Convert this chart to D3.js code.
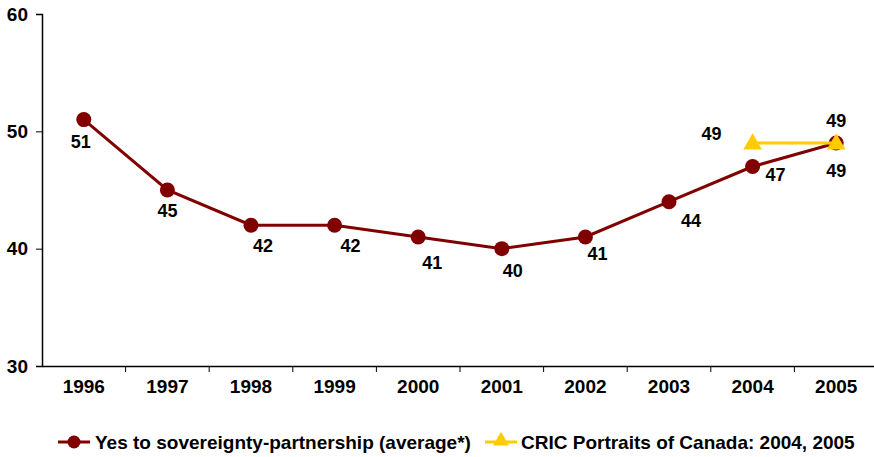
<html>
<head>
<script src="https://d3js.org/d3.v7.min.js"></script>
<style>
body { margin: 0; background: white; font-family: "Liberation Sans", Arial, sans-serif; }
text { font-weight: bold; fill: #000; }
</style>
</head>
<body>
<script>
// chart data
var years = ["1996","1997","1998","1999","2000","2001","2002","2003","2004","2005"];
var yesValues = [51, 45, 42, 42, 41, 40, 41, 44, 47, 49];
var cricYears = ["2004","2005"];
var cricValues = [49, 49];
var yTicks = [30, 40, 50, 60];
var seriesNames = ["Yes to sovereignty-partnership (average*)", "CRIC Portraits of Canada: 2004, 2005"];

// label nudges (layout only)
var yesLabelOffset = [[-3,22],[0,21],[12,20],[16,20],[14,26],[11,22],[12,17],[22,19],[23,8],[0,-22]];
var cricLabelOffset = [[-41,-9],[0,28]];

var width = 874, height = 457;
var maroon = "#800000", gold = "#FFCC00";

var svg = d3.select("body").append("svg")
  .attr("width", width)
  .attr("height", height);

var x = d3.scaleBand().domain(years).range([42, 878]).padding(0);
var cx = function(d){ return x(d) + x.bandwidth()/2; };
var y = d3.scaleLinear().domain([30, 60]).range([366, 14]);

// y axis
var yAxis = svg.append("g")
  .attr("transform", "translate(42,0)")
  .call(d3.axisLeft(y).tickValues(yTicks).tickSize(6).tickPadding(8));
yAxis.select(".domain").attr("stroke", "#000").attr("stroke-width", 1.5);
yAxis.selectAll(".tick line").attr("stroke", "#000");
yAxis.selectAll("text").style("font-size", "19px").attr("font-family", null);

// x axis
var xAxis = svg.append("g")
  .attr("transform", "translate(0,366)")
  .call(d3.axisBottom(x).tickSize(0).tickPadding(14).tickSizeOuter(0));
xAxis.select(".domain").attr("stroke", "#000").attr("stroke-width", 1.5);
xAxis.selectAll("text").style("font-size", "19px").attr("font-family", null);
xAxis.selectAll(".bound")
  .data(years.slice(1))
  .enter().append("line")
  .attr("x1", function(d){ return x(d); })
  .attr("x2", function(d){ return x(d); })
  .attr("y1", 0).attr("y2", 6)
  .attr("stroke", "#000");

// yes series
var line = d3.line()
  .x(function(d){ return cx(d[0]); })
  .y(function(d){ return y(d[1]); });

var yesData = years.map(function(d,i){ return [d, yesValues[i]]; });
svg.append("path")
  .datum(yesData)
  .attr("d", line)
  .attr("fill", "none")
  .attr("stroke", maroon)
  .attr("stroke-width", 3);

svg.selectAll(".yesdot")
  .data(yesData)
  .enter().append("circle")
  .attr("cx", function(d){ return cx(d[0]); })
  .attr("cy", function(d){ return y(d[1]); })
  .attr("r", 7.5)
  .attr("fill", maroon);

// cric series
var cricData = cricYears.map(function(d,i){ return [d, cricValues[i]]; });
svg.append("path")
  .datum(cricData)
  .attr("d", line)
  .attr("fill", "none")
  .attr("stroke", gold)
  .attr("stroke-width", 3);

var tri = d3.symbol().type(d3.symbolTriangle).size(150);
svg.selectAll(".cricdot")
  .data(cricData)
  .enter().append("path")
  .attr("d", tri)
  .attr("transform", function(d){ return "translate(" + cx(d[0]) + "," + (y(d[1]) + 1) + ")"; })
  .attr("fill", gold);

// data labels
svg.selectAll(".yeslab")
  .data(yesData)
  .enter().append("text")
  .attr("x", function(d,i){ return cx(d[0]) + yesLabelOffset[i][0]; })
  .attr("y", function(d,i){ return y(d[1]) + yesLabelOffset[i][1]; })
  .attr("dy", "0.35em")
  .attr("text-anchor", "middle")
  .style("font-size", "18px")
  .text(function(d){ return d[1]; });

svg.selectAll(".criclab")
  .data(cricData)
  .enter().append("text")
  .attr("x", function(d,i){ return cx(d[0]) + cricLabelOffset[i][0]; })
  .attr("y", function(d,i){ return y(d[1]) + cricLabelOffset[i][1]; })
  .attr("dy", "0.35em")
  .attr("text-anchor", "middle")
  .style("font-size", "18px")
  .text(function(d){ return d[1]; });

// legend
var leg = svg.append("g").attr("transform", "translate(0,442)");
leg.append("line").attr("x1", 58).attr("x2", 90).attr("stroke", maroon).attr("stroke-width", 3);
leg.append("circle").attr("cx", 74).attr("r", 6.5).attr("fill", maroon);
leg.append("text").attr("x", 95).attr("dy", "0.35em").style("font-size", "19px").text(seriesNames[0]);
leg.append("line").attr("x1", 485).attr("x2", 517).attr("stroke", gold).attr("stroke-width", 3);
leg.append("path").attr("d", d3.symbol().type(d3.symbolTriangle).size(110)).attr("transform", "translate(501,-1)").attr("fill", gold);
leg.append("text").attr("x", 521).attr("dy", "0.35em").style("font-size", "19px").text(seriesNames[1]);
</script>
</body>
</html>
